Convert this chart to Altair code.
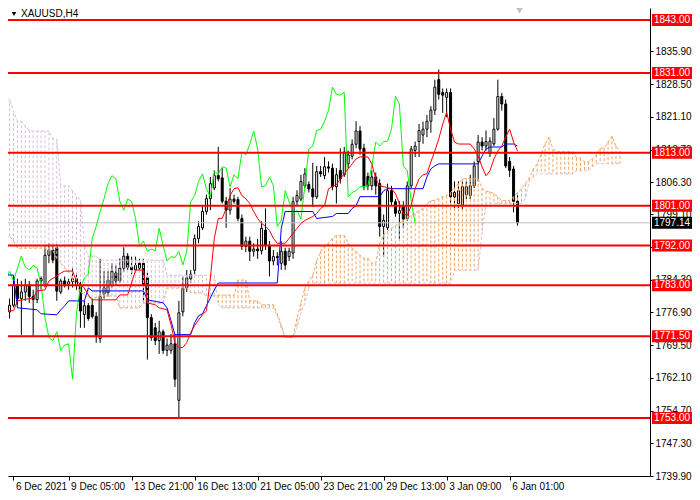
import altair as alt
import pandas as pd

# ---------------- candles (H4 bars, left to right) ----------------
opens = [1782.4, 1777.0, 1778.5, 1783.0, 1780.0, 1781.5, 1783.0, 1780.5, 1779.8, 1784.0,
         1783.1, 1789.8, 1791.0, 1791.5, 1781.5, 1784.0, 1783.2, 1783.8, 1784.5, 1783.1,
         1776.4, 1778.4, 1778.5, 1776.0, 1771.0, 1781.0, 1781.3, 1783.0, 1785.8, 1784.0,
         1786.9, 1789.6, 1787.1, 1786.5, 1788.0, 1788.0, 1784.7, 1775.7, 1773.4, 1770.5,
         1772.5, 1768.3, 1768.3, 1769.8, 1757.0, 1777.0, 1782.4, 1784.5, 1786.4, 1793.6,
         1796.0, 1799.7, 1802.6, 1805.0, 1807.8, 1807.3, 1802.0, 1800.0, 1802.5, 1802.4,
         1798.1, 1791.8, 1793.0, 1790.7, 1791.2, 1790.8, 1795.5, 1792.0, 1788.5, 1789.5,
         1788.0, 1790.7, 1789.5, 1790.3, 1802.0, 1802.5, 1805.5, 1805.8, 1804.8, 1803.0,
         1808.7, 1807.8, 1809.8, 1809.5, 1805.3, 1809.0, 1808.0, 1810.5, 1812.2, 1814.9,
         1817.9, 1814.0, 1807.6, 1805.5, 1807.5, 1806.0, 1796.3, 1796.0, 1804.4, 1801.9,
         1799.3, 1801.0, 1798.1, 1805.5, 1813.5, 1815.5, 1817.0, 1818.3, 1820.1, 1822.6,
         1829.5, 1826.6, 1825.5, 1826.6, 1803.0, 1801.5, 1801.0, 1803.5, 1803.3, 1805.5,
         1811.0, 1815.4, 1814.5, 1812.8, 1815.0, 1818.3, 1825.7, 1824.0, 1811.0, 1809.3,
         1802.0]
highs = [1783.5, 1780.0, 1785.3, 1784.5, 1784.0, 1784.5, 1784.0, 1782.0, 1784.5, 1785.0,
         1792.0, 1792.5, 1792.2, 1792.3, 1784.5, 1785.0, 1784.5, 1787.0, 1786.0, 1784.0,
         1779.5, 1779.0, 1780.0, 1777.0, 1789.0, 1786.2, 1786.2, 1788.0, 1787.5, 1789.1,
         1791.6, 1790.3, 1789.5, 1789.5, 1789.0, 1789.0, 1786.0, 1776.5, 1774.5, 1775.0,
         1773.0, 1771.0, 1772.0, 1772.0, 1779.5, 1785.0, 1786.5, 1786.5, 1794.5, 1797.5,
         1801.0, 1803.5, 1807.5, 1809.0, 1814.3, 1809.5, 1803.0, 1805.0, 1803.5, 1803.0,
         1799.0, 1794.0, 1794.0, 1792.5, 1793.5, 1797.5, 1800.4, 1793.0, 1791.0, 1790.5,
         1793.0, 1791.5, 1791.5, 1803.0, 1804.5, 1808.0, 1809.5, 1806.5, 1810.7, 1810.0,
         1810.0, 1812.0, 1811.0, 1810.5, 1809.5, 1814.0, 1814.3, 1813.5, 1816.0, 1820.1,
         1819.0, 1815.0, 1808.5, 1809.0, 1808.5, 1807.0, 1799.0, 1806.0, 1805.5, 1802.5,
         1802.0, 1802.0, 1806.5, 1814.5, 1815.5, 1819.5, 1820.0, 1821.5, 1823.5, 1829.5,
         1831.8, 1827.5, 1827.5, 1827.5, 1806.5, 1806.5, 1806.5, 1806.5, 1808.0, 1811.0,
         1817.0, 1816.5, 1818.0, 1816.5, 1820.8, 1829.5, 1826.5, 1825.0, 1812.0, 1810.0,
         1803.4]
lows = [1775.0, 1775.5, 1778.0, 1778.5, 1771.8, 1779.5, 1779.0, 1771.5, 1779.0, 1782.0,
        1782.5, 1788.0, 1788.0, 1779.5, 1781.0, 1782.5, 1782.0, 1782.5, 1782.0, 1773.4,
        1773.4, 1775.0, 1775.5, 1770.0, 1770.0, 1780.0, 1780.5, 1782.5, 1783.0, 1783.5,
        1786.0, 1786.5, 1785.5, 1785.8, 1786.0, 1779.0, 1766.2, 1770.5, 1769.5, 1767.5,
        1767.5, 1767.0, 1767.5, 1760.0, 1753.2, 1776.0, 1781.5, 1783.5, 1785.5, 1792.5,
        1795.5, 1799.0, 1800.0, 1804.5, 1806.5, 1801.5, 1796.0, 1799.0, 1801.5, 1797.5,
        1791.0, 1790.5, 1788.5, 1789.5, 1789.0, 1790.0, 1791.0, 1785.0, 1787.5, 1787.5,
        1786.5, 1786.5, 1788.5, 1789.0, 1801.0, 1802.0, 1805.0, 1804.0, 1800.7, 1802.5,
        1807.5, 1807.0, 1808.5, 1804.5, 1801.5, 1806.0, 1807.5, 1809.5, 1811.5, 1814.0,
        1812.5, 1804.5, 1804.5, 1804.5, 1803.5, 1794.0, 1789.5, 1795.5, 1801.0, 1798.5,
        1793.5, 1795.9, 1797.5, 1805.0, 1812.0, 1812.0, 1815.0, 1816.5, 1817.5, 1821.5,
        1825.0, 1822.0, 1821.0, 1801.5, 1800.5, 1800.5, 1800.0, 1802.5, 1802.5, 1805.0,
        1806.5, 1813.5, 1813.5, 1812.0, 1814.5, 1818.0, 1822.5, 1809.5, 1807.5, 1799.5,
        1796.5]
closes = [1776.5, 1778.5, 1783.0, 1780.0, 1781.5, 1783.0, 1780.5, 1779.8, 1784.0, 1784.5,
          1789.8, 1791.0, 1788.7, 1781.7, 1784.0, 1783.2, 1783.8, 1784.5, 1783.0, 1777.2,
          1778.4, 1775.5, 1776.0, 1771.5, 1780.5, 1782.4, 1784.2, 1786.2, 1784.0, 1786.9,
          1789.6, 1787.1, 1786.5, 1787.5, 1786.9, 1783.1, 1775.7, 1771.2, 1770.5, 1772.5,
          1768.3, 1769.5, 1769.8, 1761.8, 1776.8, 1782.4, 1784.7, 1785.5, 1793.6, 1796.3,
          1799.7, 1802.6, 1806.0, 1807.8, 1807.1, 1802.0, 1800.0, 1802.5, 1802.0, 1798.1,
          1791.8, 1793.0, 1790.7, 1791.2, 1790.8, 1795.9, 1792.0, 1788.5, 1789.5, 1789.3,
          1790.7, 1787.6, 1790.7, 1801.9, 1803.3, 1806.5, 1808.2, 1804.8, 1803.0, 1808.7,
          1808.2, 1809.8, 1809.5, 1805.3, 1808.0, 1807.1, 1813.1, 1812.5, 1814.9, 1817.9,
          1813.8, 1805.3, 1805.5, 1807.5, 1805.5, 1796.3, 1797.7, 1804.4, 1801.9, 1799.3,
          1799.9, 1798.0, 1805.5, 1813.8, 1814.5, 1818.0, 1818.3, 1820.1, 1822.6, 1827.8,
          1826.2, 1826.0, 1826.6, 1803.0, 1804.0, 1804.4, 1805.3, 1805.3, 1805.5, 1810.0,
          1815.4, 1814.5, 1815.5, 1815.6, 1818.3, 1825.7, 1824.0, 1810.0, 1809.0, 1802.0,
          1797.14]

# ---------------- Ichimoku lines ----------------
tenkan_bars = [0, 2, 3, 7, 8, 10, 11, 14, 15, 17, 18, 20, 21, 22, 28, 29, 31, 32, 33, 35,
               36, 38, 39, 41, 42, 43, 44, 45, 46, 47, 48, 49, 50, 51, 52, 53, 54, 55, 56, 57,
               58, 59, 60, 61, 62, 63, 64, 65, 66, 67, 68, 69, 71, 72, 73, 74, 75, 76, 78, 79,
               80, 81, 82, 84, 85, 86, 87, 88, 89, 90, 92, 93, 94, 95, 98, 99, 100, 101, 102, 103,
               104, 105, 106, 107, 108, 109, 110, 111, 112, 113, 114, 115, 118, 119, 120, 121, 122, 123, 124, 125,
               126, 127, 128, 129, 130]
tenkan_vals = [1777.25, 1777.25, 1779.49, 1780.16, 1781.74, 1781.96, 1783.98, 1785.77, 1786.22, 1786.22,
               1783.98, 1782.41, 1780.84, 1779.72, 1779.72, 1780.84, 1780.84, 1783.53, 1786.45, 1786.45,
               1779.04, 1778.59, 1777.92, 1777.47, 1774.10, 1770.07, 1768.94, 1768.94, 1770.07, 1772.30,
               1773.90, 1775.20, 1776.35, 1777.25, 1784.65, 1793.63, 1798.12, 1798.12, 1800.36, 1803.28,
               1804.85, 1805.07, 1803.28, 1802.60, 1801.48, 1799.69, 1798.12, 1796.99, 1796.32, 1795.42,
               1793.63, 1792.51, 1792.51, 1793.63, 1794.75, 1795.87, 1796.99, 1797.67, 1798.57, 1799.24,
               1800.36, 1801.03, 1804.85, 1805.75, 1807.09, 1808.21, 1809.34, 1810.46, 1811.58, 1812.03,
               1812.03, 1810.46, 1807.09, 1805.52, 1804.85, 1803.73, 1801.48, 1799.24, 1798.79, 1801.03,
               1804.85, 1807.09, 1807.99, 1808.21, 1810.91, 1813.37, 1816.07, 1819.44, 1822.13, 1818.31,
               1815.40, 1814.95, 1814.95, 1813.82, 1812.25, 1809.79, 1807.77, 1808.89, 1811.58, 1813.37,
               1814.50, 1816.52, 1818.31, 1815.40, 1813.37]

kijun_bars = [0, 2, 3, 8, 9, 13, 14, 15, 16, 20, 21, 22, 35, 36, 40, 41, 42, 43, 47, 48,
              49, 50, 51, 52, 53, 54, 69, 70, 71, 78, 79, 83, 84, 87, 88, 89, 90, 95, 96, 97,
              106, 107, 108, 109, 110, 120, 121, 122, 123, 126, 127, 129, 130]
kijun_vals = [1785.33, 1785.33, 1777.92, 1777.47, 1776.57, 1776.35, 1777.47, 1778.37, 1779.49, 1779.49,
              1782.41, 1781.74, 1781.74, 1779.72, 1779.04, 1777.92, 1775.00, 1771.86, 1771.86, 1774.55,
              1776.12, 1776.57, 1778.37, 1780.16, 1781.96, 1783.53, 1783.53, 1795.87, 1799.69, 1799.69,
              1798.12, 1798.57, 1799.24, 1799.24, 1800.36, 1801.03, 1803.05, 1803.05, 1804.40, 1804.85,
              1804.85, 1807.54, 1809.34, 1810.01, 1810.46, 1810.46, 1812.25, 1813.82, 1814.27, 1814.27,
              1814.95, 1814.95, 1814.50]

# Senkou spans, one value per bar (bar 0 .. bar 156, 26 bars ahead of the last candle)
span_a = ([1794.1, 1794.1, 1793.0] + [1791.4] * 8 + [1790.9] * 2 +
          [1789.0, 1788.0, 1786.9, 1786.0, 1784.5, 1783.1, 1781.5, 1780.8] +
          [1780.2] * 3 + [1780.6] * 5 + [1777.9] * 6 + [1779.0] * 6 + [1782.4] * 6 +
          [1781.3] * 4 + [1780.6] * 3 + [1780.8] * 5 + [1784.2] * 3 + [1779.5] * 3 +
          [1778.6] * 4 + [1776.5, 1774.0] + [1771.2] * 3 +
          [1775.5, 1779.0, 1782.4, 1784.0, 1785.3, 1788.5, 1790.7, 1792.0, 1792.5, 1793.6] +
          [1794.3] * 3 + [1792.5, 1791.4, 1790.7, 1789.8] + [1789.1] * 2 + [1788.0] * 2 +
          [1792.5, 1794.5, 1795.2, 1795.9, 1796.5, 1797.0, 1797.7, 1798.3, 1798.8, 1799.3,
           1799.9, 1800.4, 1801.5, 1802.2, 1802.2, 1802.6, 1803.0, 1803.3, 1804.0, 1805.0, 1806.0] +
          [1807.1] * 5 + [1805.0] + [1804.2] * 2 + [1803.7, 1803.0] + [1802.2] * 3 +
          [1803.0, 1804.0, 1804.8, 1806.0, 1807.3, 1809.3, 1810.5, 1812.7, 1815.0, 1816.5, 1813.8] +
          [1813.2] * 5 + [1811.8] * 2 + [1810.9] * 2 + [1811.6, 1812.5] + [1814.0] * 2 +
          [1815.4, 1816.7, 1814.5, 1813.4])
span_b = ([1825.0, 1825.0, 1822.5, 1820.0, 1820.0, 1819.0, 1818.0] + [1817.9] * 5 +
          [1816.1] * 2 + [1805.5] * 3 + [1804.4, 1803.3, 1802.2, 1792.1] + [1789.6] * 3 +
          [1788.7] * 17 + [1785.3] * 13 + [1778.6] + [1777.9] * 14 + [1776.1, 1773.4] +
          [1771.2] * 3 + [1773.4, 1776.8, 1779.0, 1782.4] + [1783.5] * 36 + [1786.4] * 7 +
          [1795.0] + [1801.5] * 10 + [1802.6, 1806.6, 1807.5] + [1808.2] * 10 +
          [1808.9] * 4 + [1809.8] + [1810.5] * 7)

# ---------------- levels, axis texts ----------------
levels = [1843.00, 1831.00, 1813.00, 1801.00, 1792.00, 1783.00, 1771.50, 1753.00]
last_price = 1797.14
price_ticks = [1835.90, 1828.50, 1821.10, 1813.70, 1806.30, 1799.10, 1791.70,
               1784.30, 1776.90, 1769.50, 1762.10, 1754.70, 1747.30, 1739.90]
time_tick_bars = [2, 16, 32, 48, 64, 80, 96, 112, 128]
time_tick_labels = ["6 Dec 2021", "9 Dec 05:00", "13 Dec 21:00", "16 Dec 13:00",
                    "21 Dec 05:00", "23 Dec 21:00", "29 Dec 13:00", "3 Jan 09:00", "6 Jan 01:00"]
symbol_title = "XAUUSD,H4"
shift_marker_bar = [130.5]

assert len(span_a) == len(span_b) == len(closes) + 26

# ---------------- tables ----------------
n = len(closes)
candles = pd.DataFrame({"bar": list(range(n)), "open": opens, "high": highs,
                        "low": lows, "close": closes})
candles["dir"] = ["up" if c >= o else "down" for o, c in zip(opens, closes)]
cloud = pd.DataFrame({"bar": list(range(len(span_a))), "a": span_a, "b": span_b})
cloud["kind"] = ["a" if a >= b else "b" for a, b in zip(span_a, span_b)]
chikou = pd.DataFrame({"bar": list(range(n - 26)), "v": closes[26:]})
tenkan = pd.DataFrame({"bar": tenkan_bars, "v": tenkan_vals})
kijun = pd.DataFrame({"bar": kijun_bars, "v": kijun_vals})
lev = pd.DataFrame({"price": levels, "label": [f"{v:.2f}" for v in levels]})
last = pd.DataFrame({"price": [last_price], "label": [f"{last_price:.2f}"]})
title_df = pd.DataFrame({"t": [symbol_title]})
shift_df = pd.DataFrame({"bar": shift_marker_bar})

FONT = "Liberation Sans"
# 4 px per bar, bar centres on half pixels (crisp 1px wicks and hatching)
xs = alt.Scale(domain=[1.875, 162.375], nice=False, zero=False)
ys = alt.Scale(domain=[1739.9, 1845.7], nice=False, zero=False)

label_expr = ("[" + ",".join(f"'{s}'" for s in time_tick_labels) + "][indexof(["
              + ",".join(str(b) for b in time_tick_bars) + "], datum.value)]")

x_axis = alt.Axis(values=time_tick_bars, labelExpr=label_expr, labelAlign="left",
                  labelOffset=2, tickSize=4, labelPadding=1, title=None, grid=False,
                  labelOverlap=False, labelFlush=False, domainColor="black",
                  tickColor="black", labelColor="black", labelFont=FONT, labelFontSize=10)
y_axis = alt.Axis(orient="right", values=price_ticks, format=".2f", tickSize=3,
                  labelPadding=2, title=None, grid=False, labelOverlap=False,
                  labelFlush=False, domainColor="black", tickColor="black",
                  labelColor="black", labelFont=FONT, labelFontSize=10, zindex=0)

def X(field="bar:Q"):
    return alt.X(field, scale=xs, axis=x_axis)

def Y(field):
    return alt.Y(field, scale=ys, axis=y_axis)

wicks = alt.Chart(candles).mark_rule(color="black", strokeWidth=1, clip=True).encode(
    x=X(), y=Y("low:Q"), y2="high:Q")

bodies = alt.Chart(candles).mark_bar(size=2, stroke="black", strokeWidth=1, clip=True).encode(
    x=X(), y=Y("open:Q"), y2="close:Q",
    fill=alt.Fill("dir:N", scale=alt.Scale(domain=["up", "down"], range=["white", "black"]),
                  legend=None))

price_line = alt.Chart(last).mark_rule(color="#C0C0C0", strokeWidth=1).encode(y=Y("price:Q"))

hatch = alt.Chart(cloud).mark_rule(strokeWidth=1, strokeDash=[3, 2], clip=True).encode(
    x=X(), y=Y("a:Q"), y2="b:Q",
    color=alt.Color("kind:N", scale=alt.Scale(domain=["a", "b"], range=["#F4A460", "#D8BFD8"]),
                    legend=None))

line_a = alt.Chart(cloud).mark_line(color="#F4A460", strokeWidth=1, strokeDash=[3, 2],
                                    clip=True).encode(x=X(), y=Y("a:Q"))
line_b = alt.Chart(cloud).mark_line(color="#D8BFD8", strokeWidth=1, strokeDash=[3, 2],
                                    clip=True).encode(x=X(), y=Y("b:Q"))

chikou_l = alt.Chart(chikou).mark_line(color="#00FF00", strokeWidth=1, clip=True).encode(
    x=X(), y=Y("v:Q"))
kijun_l = alt.Chart(kijun).mark_line(color="#0000FF", strokeWidth=1, clip=True).encode(
    x=X(), y=Y("v:Q"))
tenkan_l = alt.Chart(tenkan).mark_line(color="#FF0000", strokeWidth=1, clip=True).encode(
    x=X(), y=Y("v:Q"))

level_rules = alt.Chart(lev).mark_rule(color="#FF0000", strokeWidth=2).encode(y=Y("price:Q"))

BOX = "M-1,-0.3L1,-0.3L1,0.3L-1,0.3Z"
level_boxes = alt.Chart(lev).mark_point(shape=BOX, filled=True, size=1600, opacity=1,
                                        color="#FF0000").encode(
    x=alt.value(664), y=Y("price:Q"))
level_text = alt.Chart(lev).mark_text(color="white", font=FONT, fontSize=10,
                                      align="center", baseline="middle").encode(
    x=alt.value(664), y=Y("price:Q"), text="label:N")
last_box = alt.Chart(last).mark_point(shape=BOX, filled=True, size=1600, opacity=1,
                                      color="black").encode(
    x=alt.value(664), y=Y("price:Q"))
last_text = alt.Chart(last).mark_text(color="white", font=FONT, fontSize=10,
                                      align="center", baseline="middle").encode(
    x=alt.value(664), y=Y("price:Q"), text="label:N")

title_tri = alt.Chart(title_df).mark_point(shape="triangle-down", filled=True, size=20,
                                           opacity=1, color="black").encode(
    x=alt.value(6), y=alt.value(6))
title_txt = alt.Chart(title_df).mark_text(color="black", font=FONT, fontSize=10,
                                          align="left", baseline="middle").encode(
    x=alt.value(13), y=alt.value(6), text="t:N")

shift_mark = alt.Chart(shift_df).mark_point(shape="triangle-down", filled=True, size=70,
                                            opacity=1, color="#C0C0C0").encode(
    x=X(), y=alt.value(2))

chart = alt.layer(
    wicks, bodies, price_line, hatch, line_a, line_b, chikou_l, kijun_l, tenkan_l,
    level_rules, level_boxes, level_text, last_box, last_text, title_tri, title_txt,
    shift_mark
).properties(
    width=642, height=468,
    padding={"left": 0, "top": 0, "right": 42, "bottom": 16},
    autosize=alt.AutoSizeParams(type="none"),
    background="white",
).configure_view(stroke=None)

chart.save("out.html", embed_options={"renderer": "svg", "actions": False})
